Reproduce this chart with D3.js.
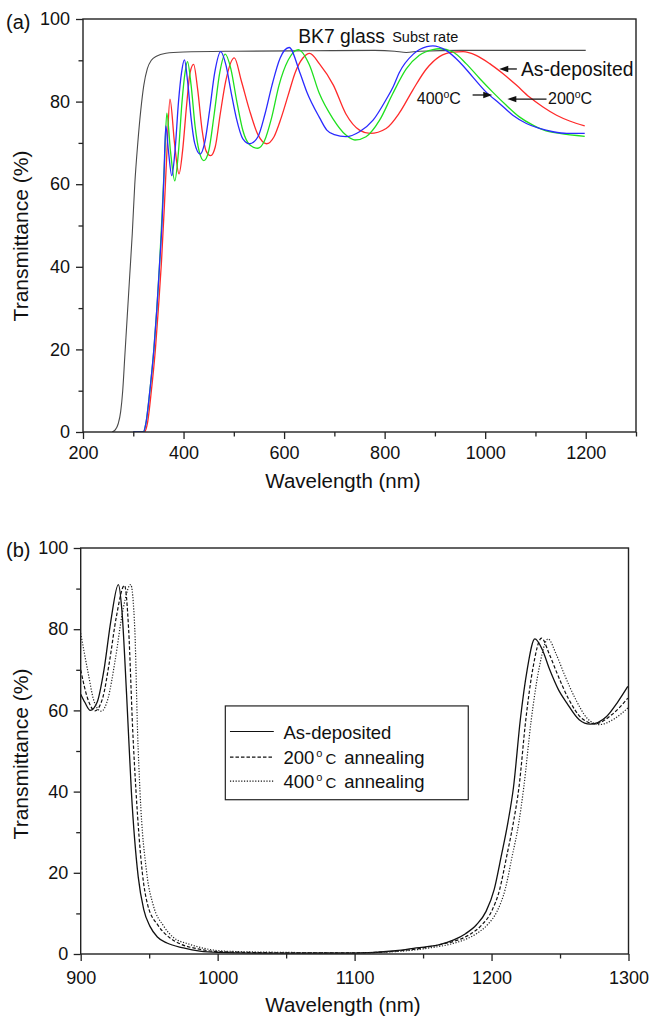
<!DOCTYPE html>
<html>
<head>
<meta charset="utf-8">
<script src="https://cdn.jsdelivr.net/npm/d3@7"></script>
<style>
  html, body { margin: 0; padding: 0; background: #fff; }
  svg { display: block; font-family: "Liberation Sans", Arial, Helvetica, sans-serif; }
</style>
</head>
<body>
<svg id="chart" width="651" height="1017"></svg>
<script>
// ---------------- DATA ----------------
// Panel (a): wavelength (nm), transmittance (%)
const substrateBK7 = [[258,0],[264,0.5],[270,2],[275,5],[279,10],[283,18],[288,28],[293,38],[298,48],[303,60],[309,70],[315,78],[321,84],[328,88],[336,90],[346,91],[365,91.7],[400,92],[500,92.2],[650,92.3],[780,92.4],[820,92.2],[843,91.9],[870,92.2],[950,92.4],[1200,92.4]];

const asDeposited = [[300,0],[322,0],[328,2],[336,10],[344,20],[350,30],[356,41],[362,55],[367,68],[373,80.6],[382,70],[391,62.5],[398,68],[406,79],[413,87],[420,89],[428,83],[437,73],[445,68],[454,66.9],[463,69],[473,77],[484,85],[501,90.6],[515,85],[531,78],[548,72],[565,69.8],[580,71.5],[594,76],[608,81.5],[622,87],[637,90.5],[651,91.7],[670,89.2],[698,84],[723,77],[750,73.1],[771,72.3],[803,73.5],[829,77.2],[856,82.8],[883,87.9],[909,90.9],[936,92],[956,92.1],[982,91.2],[1009,89.2],[1035,86.8],[1062,84],[1088,81.1],[1115,78.7],[1142,76.7],[1168,75.3],[1198,74.1]];

const annealed200 = [[300,0],[320,0],[325,2],[333,10],[341,20],[347,30],[352,40],[357,52],[362,65],[366.7,77.2],[374,68],[382.6,60.8],[390,68],[397,80],[403,87],[407.8,89.7],[415,84],[423,74],[431,68],[440.4,65.7],[450,68],[461,77],[472,87],[482.9,91.5],[494,88],[506,80],[518,73],[532,69.5],[548,68.7],[561,70.5],[575,76],[590,84],[608,90],[628,92.6],[650,89],[670,82],[697,75.9],[723,71.9],[741,70.7],[763,71.5],[790,75.5],[816,81.9],[843,87.9],[869,91.2],[896,92.6],[909,92.8],[936,92],[962,89.2],[989,85.6],[1015,82.3],[1042,79.1],[1068,76.3],[1095,74.3],[1121,72.9],[1148,72.3],[1198,71.6]];

const annealed400 = [[300,0],[320,0],[325,2],[333,10],[341,20],[347,30],[352,40],[357,50],[361,62],[364.7,74.1],[370,68],[376.6,62.1],[383,68],[390,80],[396,87],[401.8,90.1],[408,85],[415,76],[422,70],[433,67.3],[442,70],[452,78],[462,87],[474,92.1],[484,89],[495,82],[505,76],[518,71],[532,69.8],[548,71.5],[562,77],[576,84],[592,90.5],[610,93.1],[632,86.8],[645,82.4],[671,76],[685,73.1],[700,72],[723,71.5],[750,72.7],[777,75.5],[803,80.5],[817,83.6],[829,87],[857,91.5],[884,93.3],[896,93.5],[922,92.4],[949,89.6],[975,86],[1002,82.3],[1029,79.5],[1055,76.7],[1082,74.7],[1108,73.5],[1135,72.7],[1162,72.3],[1198,72.3]];

// Panel (b)
const bAsDeposited = [[900,64],[903,62],[907,60],[912,62],[917,70],[922,82],[927.5,91],[930,85],[933.5,64],[937,40],[942,19],[946,11],[950.6,6.8],[956,4.2],[963,2.7],[975,1.5],[987,0.7],[1000,0.4],[1050,0.2],[1100,0.2],[1130,0.8],[1145,1.5],[1162,2.3],[1172,3.4],[1181,5],[1189,7.2],[1196,10.5],[1202,16],[1207,24],[1212,32.5],[1216,41],[1221,57.7],[1226,70],[1231.6,77.6],[1237,75],[1242.5,70],[1249,65],[1255,61.8],[1264,57.7],[1272,56.6],[1284,58.5],[1292,62],[1299.5,65.9]];

const bAnnealed200 = [[900,70],[905,63],[910.4,59.9],[916,63],[921,72],[926,83],[932,90.8],[935,80],[938,55],[940.4,40],[945,20],[949,12],[956.6,7],[965,4],[972.5,2.5],[985,1.3],[1000,0.6],[1050,0.3],[1100,0.3],[1130,0.7],[1150,1.5],[1166,2.6],[1176,3.5],[1185,5],[1193,7.2],[1200,10.5],[1206,16],[1211,24],[1216,32.5],[1220,41],[1225,57.7],[1230,70],[1236.5,77.8],[1242,74],[1248,69],[1256,63],[1266,58],[1275.5,56.7],[1288,59],[1299.5,63]];

const bAnnealed400 = [[900,79],[905,70],[910,62],[915,59.8],[920,63],[925,72],[931,85],[936.5,91],[939.5,80],[941.5,55],[943.3,40],[948.2,20],[953,12],[960.3,7],[968,4],[978.5,2.5],[990,1.4],[1005,0.7],[1050,0.4],[1100,0.3],[1130,0.6],[1155,1.5],[1172,2.6],[1181,3.6],[1189,5],[1197,7.2],[1204,10.5],[1210,16],[1215,24],[1220,32.5],[1223.5,41],[1229,57.7],[1234.5,70],[1241.3,77.6],[1247,74],[1253,69],[1261,63],[1270,58],[1278.6,56.5],[1290,58],[1299.5,60.6]];

// Ticks
const aXMajor = [200,400,600,800,1000,1200];
const aXMinor = [300,500,700,900,1100,1300];
const bXMajor = [900,1000,1100,1200,1300];
const bXMinor = [950,1050,1150,1250];
const yMajor = [0,20,40,60,80,100];
const yMinor = [10,30,50,70,90];

const legendLabels = ["As-deposited","200","400"];

// ---------------- DRAW ----------------
const svg = d3.select("#chart");
const FONT = '"Liberation Sans", Arial, Helvetica, sans-serif';
const AX = "#222";

function panel(opts) {
  const x = d3.scaleLinear().domain(opts.xDomain).range(opts.xRange);
  const y = d3.scaleLinear().domain([0,100]).range(opts.yRange);
  const g = svg.append("g");
  const [x0,x1] = opts.xRange, [y0,y1] = opts.yRange;

  const clipId = "clip" + opts.id;
  svg.append("clipPath").attr("id", clipId).append("rect")
    .attr("x", x0).attr("y", y1).attr("width", x1-x0).attr("height", y0-y1);
  const lines = g.append("g").attr("clip-path", `url(#${clipId})`);
  const line = d3.line().x(d => x(d[0])).y(d => y(d[1])).curve(d3.curveMonotoneX);
  opts.series.forEach(s => {
    lines.append("path").datum(s.data).attr("d", line)
      .attr("fill","none").attr("stroke", s.color).attr("stroke-width", s.width)
      .attr("stroke-dasharray", s.dash || null);
  });

  g.append("rect").attr("x", x0).attr("y", y1).attr("width", x1-x0).attr("height", y0-y1)
    .attr("fill","none").attr("stroke", AX).attr("stroke-width", 1.4);

  const xa = g.append("g").attr("transform", `translate(0,${y0})`)
    .call(d3.axisBottom(x).tickValues(opts.xMajor).tickSize(7).tickPadding(opts.xPad).tickFormat(d3.format("d")));
  xa.select(".domain").remove();
  xa.selectAll("line").attr("stroke", AX).attr("stroke-width", 1.3);
  xa.selectAll("text").attr("font-family", FONT).attr("font-size", 18).attr("fill", "#111");
  const xm = g.append("g").attr("transform", `translate(0,${y0})`)
    .call(d3.axisBottom(x).tickValues(opts.xMinor).tickSize(4.5).tickFormat(""));
  xm.select(".domain").remove();
  xm.selectAll("line").attr("stroke", AX).attr("stroke-width", 1.3);

  const ya = g.append("g").attr("transform", `translate(${x0},0)`)
    .call(d3.axisLeft(y).tickValues(yMajor).tickSize(7).tickPadding(opts.yPad));
  ya.select(".domain").remove();
  ya.selectAll("line").attr("stroke", AX).attr("stroke-width", 1.3);
  ya.selectAll("text").attr("font-family", FONT).attr("font-size", 18).attr("fill", "#111");
  const ym = g.append("g").attr("transform", `translate(${x0},0)`)
    .call(d3.axisLeft(y).tickValues(yMinor).tickSize(4.5).tickFormat(""));
  ym.select(".domain").remove();
  ym.selectAll("line").attr("stroke", AX).attr("stroke-width", 1.3);

  g.append("text").attr("x", 343).attr("y", opts.xTitleY).attr("text-anchor","middle")
    .attr("font-family", FONT).attr("font-size", 20.5).attr("fill","#111").text("Wavelength (nm)");
  g.append("text").attr("transform", `translate(28,${opts.yTitleC}) rotate(-90)`).attr("text-anchor","middle")
    .attr("font-family", FONT).attr("font-size", 21).attr("fill","#111").text("Transmittance (%)");
  g.append("text").attr("x", 6).attr("y", opts.tagY).attr("font-family", FONT).attr("font-size", 20)
    .attr("fill","#111").text(opts.tag);
  return {x, y, g};
}

const A = panel({
  id: "a", xDomain: [200,1300], xRange: [83,636], yRange: [432,19],
  xMajor: aXMajor, xMinor: aXMinor, xPad: 7, yPad: 6,
  xTitleY: 488, yTitleC: 236, tagY: 29, tag: "(a)",
  series: [
    {data: substrateBK7, color: "#4a4a4a", width: 1.1},
    {data: asDeposited, color: "#ff2a2a", width: 1.3},
    {data: annealed200, color: "#1fe01f", width: 1.3},
    {data: annealed400, color: "#2a2aff", width: 1.3}
  ]
});

const B = panel({
  id: "b", xDomain: [900,1300], xRange: [80.7,628.5], yRange: [954,548],
  xMajor: bXMajor, xMinor: bXMinor, xPad: 10, yPad: 5.5,
  xTitleY: 1012, yTitleC: 754, tagY: 557, tag: "(b)",
  series: [
    {data: bAsDeposited, color: "#111", width: 1.3},
    {data: bAnnealed200, color: "#111", width: 1.2, dash: "3.5,2"},
    {data: bAnnealed400, color: "#222", width: 1.2, dash: "1.2,1.6"}
  ]
});

// ---------------- Annotations panel (a) ----------------
const ax = A.x, ay = A.y, ga = A.g;
ga.append("text").attr("x", ax(628)).attr("y", ay(94.2)).attr("font-family", FONT).attr("font-size", 19.3)
  .attr("fill","#111").text("BK7 glass");
ga.append("text").attr("x", ax(815)).attr("y", ay(94.4)).attr("font-family", FONT).attr("font-size", 14.5)
  .attr("fill","#111").text("Subst rate");
ga.append("text").attr("x", ax(1071)).attr("y", ay(86.1)).attr("font-family", FONT).attr("font-size", 19.3)
  .attr("fill","#111").text("As-deposited");

function degLabel(xv, yv, num) {
  const t = ga.append("text").attr("x", ax(xv)).attr("y", ay(yv)).attr("font-family", FONT)
    .attr("font-size", 16).attr("fill","#111");
  t.append("tspan").text(num);
  t.append("tspan").attr("font-size", 10.5).attr("dy", -6).text("o");
  t.append("tspan").attr("dy", 6).text("C");
}
degLabel(864, 79.3, "400");
degLabel(1125, 79.3, "200");

function arrow(xTail, xHead, yv) {
  const y0 = ay(yv), xt = ax(xTail), xh = ax(xHead);
  const dir = xh > xt ? 1 : -1;
  ga.append("line").attr("x1", xt).attr("y1", y0).attr("x2", xh - dir*6).attr("y2", y0)
    .attr("stroke", "#111").attr("stroke-width", 1.3);
  ga.append("path").attr("d", `M${xh},${y0} L${xh - dir*9},${y0-3.2} L${xh - dir*9},${y0+3.2} Z`).attr("fill","#111");
}
arrow(1063, 1028, 87.9);
arrow(975, 1014, 81.6);
arrow(1122, 1044, 80.6);

// ---------------- Legend panel (b) ----------------
const gb = B.g;
gb.append("rect").attr("x", B.x(1005.6)).attr("y", B.y(61.1)).attr("width", B.x(1183) - B.x(1005.6))
  .attr("height", B.y(38) - B.y(61.1)).attr("fill","#fff").attr("stroke", AX).attr("stroke-width", 1.2);
const legDash = [null, "3.5,2", "1.2,1.6"];
const legY = [54.8, 48.5, 42.6];
legendLabels.forEach((lab, i) => {
  const yy = B.y(legY[i]);
  gb.append("line").attr("x1", B.x(1009)).attr("x2", B.x(1041)).attr("y1", yy).attr("y2", yy)
    .attr("stroke", "#111").attr("stroke-width", 1.2).attr("stroke-dasharray", legDash[i]);
  const t = gb.append("text").attr("x", B.x(1048)).attr("y", yy + 7).attr("font-family", FONT)
    .attr("font-size", 18.5).attr("fill","#111");
  if (i === 0) { t.text(lab); }
  else {
    t.append("tspan").text(lab);
    t.append("tspan").attr("font-size", 11).attr("dx", 2).attr("dy", -7).text("o");
    t.append("tspan").attr("font-size", 15).attr("dx", 3).attr("dy", 7).text("C");
    t.append("tspan").attr("dx", 8).text("annealing");
  }
});
</script>
</body>
</html>
